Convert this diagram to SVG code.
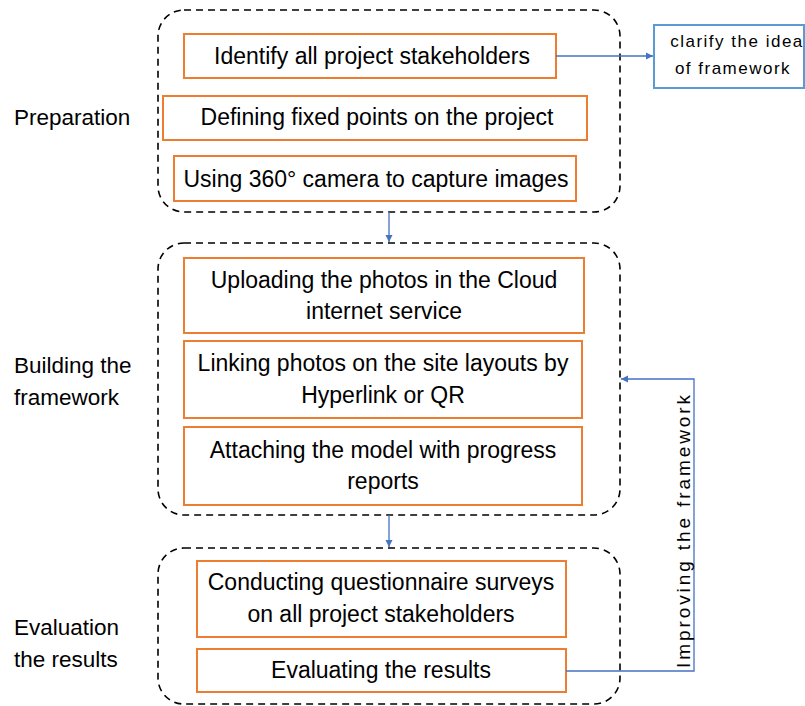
<svg xmlns="http://www.w3.org/2000/svg" width="805" height="706" viewBox="0 0 805 706">
<defs>
<marker id="ah" markerWidth="8" markerHeight="8" refX="7" refY="4" orient="auto" markerUnits="userSpaceOnUse">
<path d="M0,0.5 L7,4 L0,7.5 Z" fill="#4472C4"/>
</marker>
<style>
.grp{fill:none;stroke:#000;stroke-width:1.6;stroke-dasharray:7,5}
.box{fill:#fff;stroke:#ED7D31;stroke-width:2}
.t{font-family:"Liberation Sans",Arial,sans-serif;font-size:23px;fill:#000;text-anchor:middle}
.lbl{font-family:"Liberation Sans",Arial,sans-serif;font-size:22.5px;fill:#000}
.small{font-family:"Liberation Sans",Arial,sans-serif;font-size:17px;fill:#000;letter-spacing:1.5px}
.vt{font-family:"Liberation Sans",Arial,sans-serif;font-size:19px;fill:#000;letter-spacing:2.9px}
.con{fill:none;stroke:#4472C4;stroke-width:1.3}
</style>
</defs>
<rect width="805" height="706" fill="#fff"/>
<g id="phase-labels">
<text class="lbl" x="14" y="125">Preparation</text>
<text class="lbl" x="14" y="373">Building the</text>
<text class="lbl" x="14" y="405">framework</text>
<text class="lbl" x="14" y="635">Evaluation</text>
<text class="lbl" x="14" y="667">the results</text>
</g>
<g id="group-preparation"><rect class="grp" x="158" y="10" width="462" height="202" rx="26"/></g>
<g id="group-building"><rect class="grp" x="158" y="243" width="462" height="272" rx="26"/></g>
<g id="group-evaluation"><rect class="grp" x="158" y="548" width="462" height="156" rx="26"/></g>
<g id="n1"><rect class="box" x="184" y="34" width="372" height="44"/><text class="t" x="372" y="64">Identify all project stakeholders</text></g>
<g id="n2"><rect class="box" x="163" y="96" width="424" height="44"/><text class="t" x="377" y="125">Defining fixed points on the project</text></g>
<g id="n3"><rect class="box" x="174" y="156" width="402" height="45"/><text class="t" x="376" y="187">Using 360° camera to capture images</text></g>
<g id="n4"><rect class="box" x="184" y="258" width="400" height="75"/><text class="t" x="384" y="288">Uploading the photos in the Cloud</text><text class="t" x="384" y="319">internet service</text></g>
<g id="n5"><rect class="box" x="184" y="341" width="398" height="77"/><text class="t" x="383" y="371">Linking photos on the site layouts by</text><text class="t" x="383" y="403">Hyperlink or QR</text></g>
<g id="n6"><rect class="box" x="184" y="427" width="398" height="78"/><text class="t" x="383" y="458">Attaching the model with progress</text><text class="t" x="383" y="489">reports</text></g>
<g id="n7"><rect class="box" x="197" y="561" width="369" height="76"/><text class="t" x="381" y="590">Conducting questionnaire surveys</text><text class="t" x="381" y="622">on all project stakeholders</text></g>
<g id="n8"><rect class="box" x="197" y="649" width="369" height="43"/><text class="t" x="381" y="678">Evaluating the results</text></g>
<g id="n9"><rect x="654" y="25" width="150" height="63" fill="#fff" stroke="#5B9BD5" stroke-width="2"/><text class="small" x="737" y="47" text-anchor="middle">clarify the idea</text><text class="small" x="733" y="74" text-anchor="middle">of framework</text></g>
<g id="connectors">
<line class="con" x1="556" y1="56" x2="653" y2="56" marker-end="url(#ah)"/>
<line class="con" x1="389" y1="212" x2="389" y2="242" marker-end="url(#ah)"/>
<line class="con" x1="389" y1="515" x2="389" y2="547" marker-end="url(#ah)"/>
<polyline class="con" points="566,671 694,671 694,379 621,379" marker-end="url(#ah)"/>
<text class="vt" transform="translate(690,530) rotate(-90)" text-anchor="middle">Improving the framework</text>
</g>
</svg>
